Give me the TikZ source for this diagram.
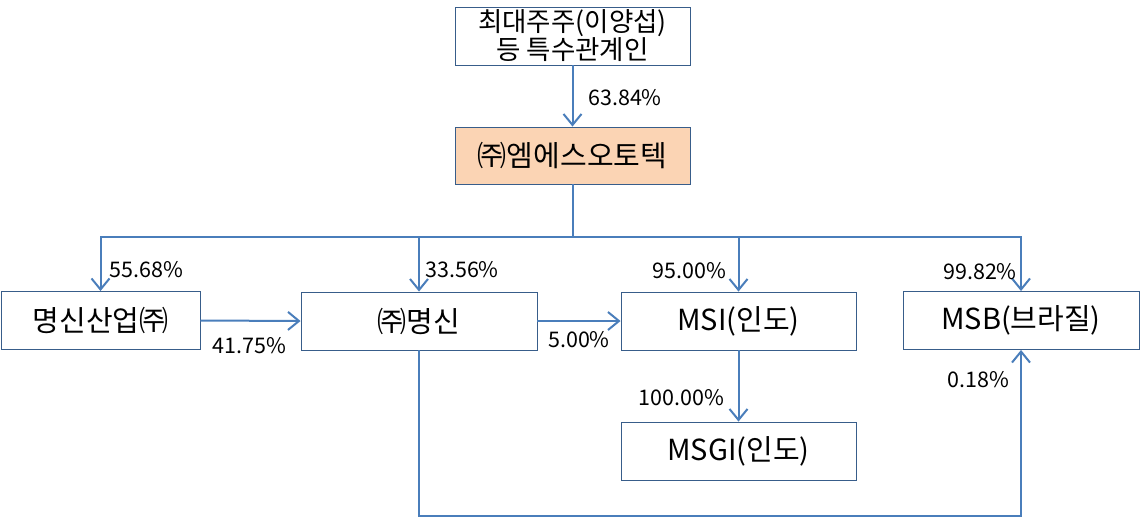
\documentclass[tikz,border=0pt]{standalone}
\usepackage{fontspec}
\setmainfont{Noto Sans CJK KR}
\usetikzlibrary{arrows.meta}
\definecolor{linkblue}{HTML}{4A7EBB}
\definecolor{boxline}{HTML}{385D8A}
\definecolor{peach}{HTML}{FBD4B4}
\tikzset{
  orgbox/.style={draw=boxline, line width=0.9pt, fill=white, minimum width=235pt, minimum height=58pt, inner sep=0pt, align=center, font=\fontsize{29}{29}\selectfont},
  conn/.style={draw=linkblue, line width=2pt},
  arr/.style={conn, -{Straight Barb[length=11pt,width=18pt,line width=2pt]}},
  pct/.style={inner sep=0pt, font=\fontsize{21.5}{24}\selectfont}
}
\begin{document}
\begin{tikzpicture}[x=1pt,y=-1pt]
\useasboundingbox (0,0) rectangle (1140,517);
\node[orgbox, text height=0pt, text depth=0pt] (top) at (572.5,36) {};
\node[inner sep=0pt, align=center, font=\fontsize{26.5}{28}\selectfont] (toptext) at (top.center) {최대주주(이양섭)\\등 특수관계인};
\node[orgbox, fill=peach, minimum height=57pt] (ms) at (572.5,155.5) {㈜엠에스오토텍};
\node[orgbox, minimum width=199pt] (sanup) at (100.5,320.5) {명신산업㈜};
\node[orgbox, minimum width=236pt] (myungsin) at (419,321) {㈜명신};
\node[orgbox] (msi) at (738.5,321) {MSI(인도)};
\node[orgbox] (msgi) at (738.5,451) {MSGI(인도)};
\node[orgbox, minimum width=236pt] (msb) at (1021,320.5) {MSB(브라질)};

\coordinate (bus) at (572.5,237);
\coordinate (low) at (419,516);

\draw[arr] (top.south) -- (ms.north);
\draw[conn] (ms.south) -- (bus);
\draw[arr] (bus) -| (sanup.north);
\draw[arr] (bus) -| (myungsin.north);
\draw[arr] (bus) -| (msi.north);
\draw[arr] (bus) -| (msb.north);
\draw[arr] (sanup.east) -- (myungsin.west);
\draw[arr] (myungsin.east) -- (msi.west);
\draw[arr] (msi.south) -- (msgi.north);
\draw[arr] (myungsin.south) -- (low) -| (msb.south);

\node[pct] (l1) at (625,98) {63.84\%};
\node[pct] (l2) at (146.5,270) {55.68\%};
\node[pct] (l3) at (249.5,346) {41.75\%};
\node[pct] (l4) at (462,270) {33.56\%};
\node[pct] (l5) at (579,340) {5.00\%};
\node[pct] (l6) at (689.5,271) {95.00\%};
\node[pct] (l7) at (681.5,398) {100.00\%};
\node[pct] (l8) at (980,272) {99.82\%};
\node[pct] (l9) at (978.5,380) {0.18\%};
\end{tikzpicture}
\end{document}
